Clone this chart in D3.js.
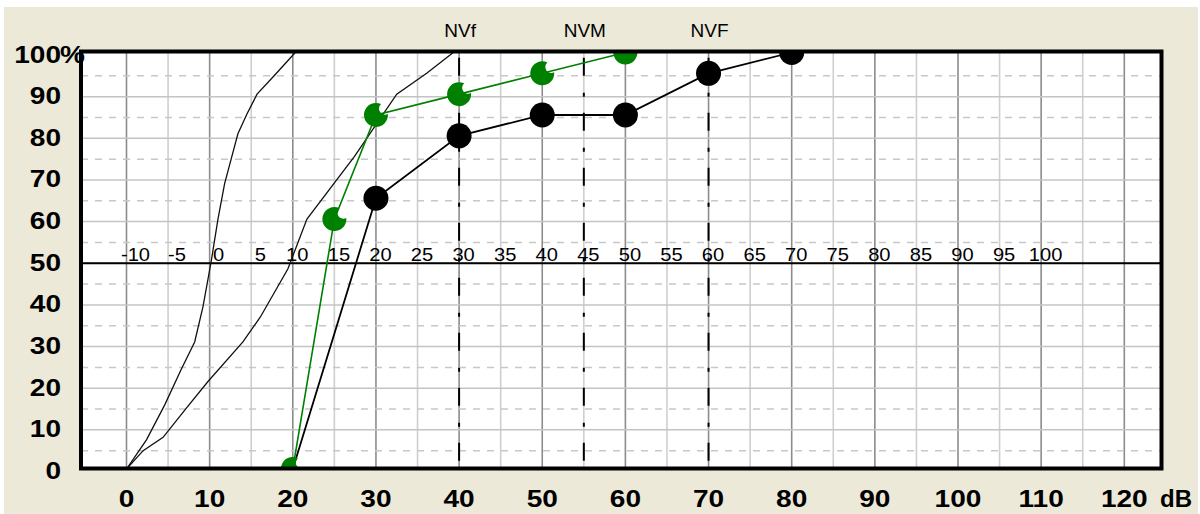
<!DOCTYPE html>
<html><head><meta charset="utf-8">
<script src="https://cdn.jsdelivr.net/npm/d3@7"></script>
<style>
html,body{margin:0;padding:0;background:#fff;}
svg{display:block;}
text{font-family:"Liberation Sans",Arial,sans-serif;}
</style></head>
<body>
<svg id="chart" width="1200" height="514"></svg>
<script>
// ---- data ----
const xTicks = [0,10,20,30,40,50,60,70,80,90,100,110,120];
const yTicks = [0,10,20,30,40,50,60,70,80,90,100];
const midLabels = [-10,-5,0,5,10,15,20,25,30,35,40,45,50,55,60,65,70,75,80,85,90,95,100];
const refLevels = [40,55,70];
const refNames = ["NVf","NVM","NVF"];
// normal-hearing reference curves (dB, %)
const curveA_dB  = [0,2.4,4.6,6.6,8.2,9.2,10.2,11,11.8,12.6,13.4,14.5,15.7,17.7,20.3];
const curveA_pct = [0,7,15.4,24,30.5,39,50,60,68.5,74.5,80.5,85.3,90,94.3,100];
const curveB_dB  = [0,2,4.4,7.2,9.8,14,16.1,19.4,21.7,27.4,32.5,36.1,39.3];
const curveB_pct = [0,4.4,7.6,14.6,21,30.5,36.5,48,60,75,90,95,100];
// measured series
const greenDB  = [20,25,30,40,50,60];
const greenPct = [0,60,85,90,95,100];
const blackDB  = [20,30,40,50,60,70,80];
const blackPct = [0,65,80,85,85,95,100];
const blackMarkerFrom = 1; // first point has no black marker

// ---- layout ----
const svg = d3.select("#chart");
const x = d3.scaleLinear().domain([0,120]).range([126.5,1124.3]);
const y = d3.scaleLinear().domain([0,100]).range([469,52.5]);   // data scale
const gy = v => y(v) + 2.5;                                      // grid drawn slightly lower
const F = {l:81, r:1161.5, t:51.5, b:468.5};

svg.append("rect").attr("x",4).attr("y",7).attr("width",1194).attr("height",507).attr("fill","#ECE9D8");
svg.append("rect").attr("x",F.l).attr("y",F.t).attr("width",F.r-F.l).attr("height",F.b-F.t).attr("fill","#fff");

const defs = svg.append("defs");
defs.append("clipPath").attr("id","clip").append("rect")
  .attr("x",F.l).attr("y",F.t).attr("width",F.r-F.l).attr("height",F.b-F.t);

const g = svg.append("g").attr("clip-path","url(#clip)");

// grid
const vGrid = d3.range(0,125,5);
g.selectAll(".vg").data(vGrid).join("line")
  .attr("x1",d=>x(d)).attr("x2",d=>x(d)).attr("y1",F.t).attr("y2",F.b)
  .attr("stroke",d=>d%10===0?"#8c8c8c":"#cfcfcf").attr("stroke-width",1.6);
const hGrid = d3.range(5,100,5);
g.selectAll(".hg").data(hGrid).join("line")
  .attr("x1",F.l).attr("x2",F.r).attr("y1",d=>gy(d)).attr("y2",d=>gy(d))
  .attr("stroke",d=>d%10===0?"#c4c4c4":"#c8c8c8").attr("stroke-width",1.5)
  .attr("stroke-dasharray",d=>d%10===0?null:"7,7");
// 50% line
g.append("line").attr("x1",F.l).attr("x2",F.r).attr("y1",gy(50)).attr("y2",gy(50))
  .attr("stroke","#000").attr("stroke-width",2);

// reference dash-dot lines
g.selectAll(".ref").data(refLevels).join("line")
  .attr("x1",d=>x(d)).attr("x2",d=>x(d)).attr("y1",F.t).attr("y2",F.b)
  .attr("stroke","#000").attr("stroke-width",2)
  .attr("stroke-dasharray","18,17,4,16").attr("stroke-dashoffset",48.7);

// mid labels
g.selectAll(".ml").data(midLabels).join("text")
  .attr("transform",d=>`translate(${x(d+10)+ (d<10?9:4.5)},${gy(50)-2}) scale(1.06,1)`)
  .attr("text-anchor","middle").attr("font-size",19).attr("fill","#000")
  .text(d=>d);

const line = d3.line().x(d=>x(d[0])).y(d=>y(d[1]));
const zipA = curveA_dB.map((d,i)=>[d,curveA_pct[i]]);
const zipB = curveB_dB.map((d,i)=>[d,curveB_pct[i]]);
const zipG = greenDB.map((d,i)=>[d,greenPct[i]]);
const zipK = blackDB.map((d,i)=>[d,blackPct[i]]);

g.append("path").attr("d",line(zipA)).attr("fill","none").attr("stroke","#111").attr("stroke-width",1.3);
g.append("path").attr("d",line(zipB)).attr("fill","none").attr("stroke","#111").attr("stroke-width",1.3);
g.append("path").attr("d",line(zipK)).attr("fill","none").attr("stroke","#000").attr("stroke-width",1.8);
g.append("path").attr("d",line(zipG)).attr("fill","none").attr("stroke","#008000").attr("stroke-width",1.6);

// black markers
g.selectAll(".bm").data(zipK.slice(blackMarkerFrom)).join("circle")
  .attr("cx",d=>x(d[0])).attr("cy",d=>y(d[1])).attr("r",12.5).attr("fill","#000");

// green notched markers
function notch(R){
  const d=R*0.92, b=R*0.5, th=-35*Math.PI/180;
  const phi=Math.acos((R*R+d*d-b*b)/(2*R*d));
  const a1=th+phi, a2=th-phi;
  const p1=[R*Math.cos(a1),R*Math.sin(a1)], p2=[R*Math.cos(a2),R*Math.sin(a2)];
  return `M${p1[0]},${p1[1]} A${R},${R} 0 1 1 ${p2[0]},${p2[1]} A${b},${b} 0 0 0 ${p1[0]},${p1[1]} Z`;
}
g.selectAll(".gm").data(zipG).join("path")
  .attr("d",notch(12)).attr("transform",d=>`translate(${x(d[0])},${y(d[1])})`)
  .attr("fill","#008000");

// frame
svg.append("rect").attr("x",F.l).attr("y",F.t).attr("width",F.r-F.l).attr("height",F.b-F.t)
  .attr("fill","none").attr("stroke","#000").attr("stroke-width",4);

// y labels
svg.selectAll(".yl").data(yTicks).join("text")
  .attr("transform",d=>`translate(61,${gy(d)+7.5}) scale(1.22,1)`)
  .attr("text-anchor","end").attr("font-size",23).attr("font-weight","bold").attr("fill","#000")
  .text(d=>d);
svg.append("text").attr("transform",`translate(60,${gy(100)+7.5}) scale(1.22,1)`)
  .attr("font-size",23).attr("font-weight","bold").text("%");

// x labels
svg.selectAll(".xl").data(xTicks).join("text")
  .attr("transform",d=>`translate(${x(d)},507) scale(1.22,1)`)
  .attr("text-anchor","middle").attr("font-size",23).attr("font-weight","bold").attr("fill","#000")
  .text(d=>d);
svg.append("text").attr("x",1160).attr("y",507).attr("font-size",24).attr("font-weight","bold").text("dB");

// reference names
svg.selectAll(".rn").data(refLevels).join("text")
  .attr("x",d=>x(d)+1).attr("y",36.5).attr("text-anchor","middle")
  .attr("font-size",19).attr("fill","#000").text((d,i)=>refNames[i]);
</script>
</body></html>
